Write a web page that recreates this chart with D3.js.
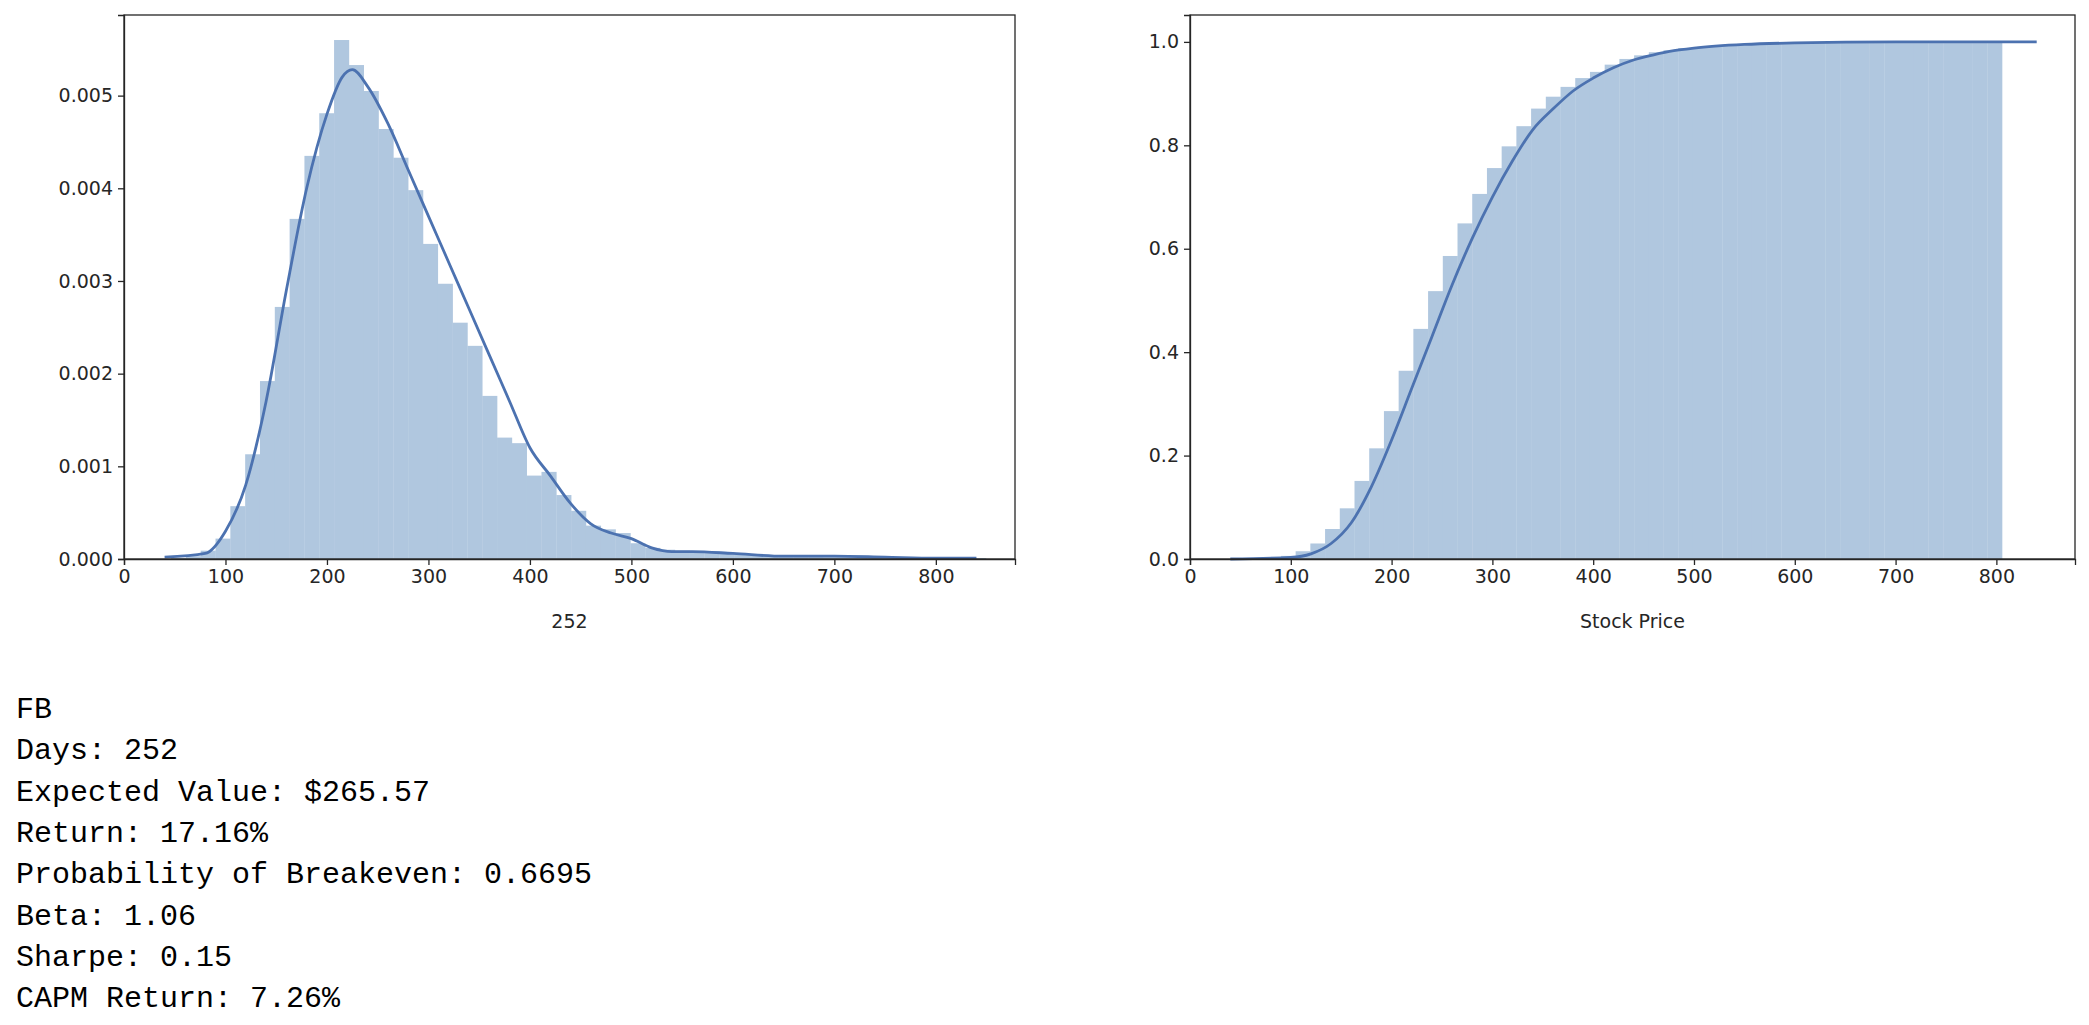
<!DOCTYPE html>
<html lang="en">
<head>
<meta charset="UTF-8">
<title>FB Monte Carlo</title>
<script src="https://d3js.org/d3.v7.min.js"></script>
<style>
  body { margin: 0; background: #fff; }
  .axis text { font-family: "DejaVu Sans", sans-serif; font-size: 19px; fill: #262626; }
  .axis path, .axis line { stroke: #262626; stroke-width: 1.3; }
  .label { font-family: "DejaVu Sans", sans-serif; font-size: 19px; fill: #262626; }
  .stats { font-family: "Liberation Mono", monospace; font-size: 30px; fill: #000; }
</style>
</head>
<body>
<svg id="chart" width="2089" height="1025"></svg>
<script>
// histogram bins (left edge of first bin and width, in price units)
const binStart = 46.4;
const binWidth = 14.6;

// density histogram heights
const densityBins = [0.00001, 0.00003, 0.00009, 0.00022, 0.00057, 0.00113, 0.00192, 0.00272, 0.00367, 0.00435,
  0.00481, 0.0056, 0.00533, 0.00505, 0.00464, 0.00433, 0.00398, 0.0034, 0.00297, 0.00255,
  0.0023, 0.00176, 0.00131, 0.00125, 0.0009, 0.00094, 0.00069, 0.00052, 0.00036, 0.00032,
  0.00028, 0.00017, 0.00012, 0.0001, 0.00009, 0.00008, 0.00008, 0.00006, 0.00005, 0.00004,
  0.00004, 0.00004, 0.00003, 0.00003, 0.00002, 0.00002, 0.00002, 0.00001, 0.00001, 0.00001,
  0.00001, 0.00001, 0.00001, 0.00001, 0.00001];

// kde curve
const kdeX = [40, 80, 100, 120, 140, 160, 180, 200, 215, 225, 240, 260, 280, 300, 320, 340, 360, 380, 400, 420,
  440, 460, 480, 500, 520, 540, 560, 600, 650, 700, 750, 800, 840];
const kdeY = [0.00002, 0.00006, 0.0003, 0.0008, 0.0017, 0.0029, 0.004, 0.0048, 0.0052, 0.00528, 0.0051, 0.0047,
  0.0042, 0.0037, 0.0032, 0.0027, 0.0022, 0.0017, 0.0012, 0.0009, 0.0006, 0.00038, 0.00028, 0.00022, 0.00012,
  0.00008, 0.00008, 0.00006, 0.00003, 0.00003, 0.00002, 0.00001, 0.00001];

// cumulative histogram heights
const cdfBins = [0.0005, 0.001, 0.002, 0.006, 0.015, 0.03, 0.058, 0.098, 0.151, 0.214,
  0.286, 0.364, 0.445, 0.518, 0.586, 0.649, 0.706, 0.756, 0.798, 0.837,
  0.871, 0.894, 0.913, 0.93, 0.942, 0.956, 0.967, 0.974, 0.98, 0.984,
  0.988, 0.99, 0.992, 0.994, 0.995, 0.996, 0.997, 0.997, 0.998, 0.998,
  0.999, 0.999, 0.999, 0.999, 1.0, 1.0, 1.0, 1.0, 1.0, 1.0, 1.0, 1.0];

// cumulative kde curve
const cdfX = [40, 100, 120, 140, 160, 180, 200, 220, 240, 260, 280, 300, 320, 340, 360, 380, 400, 420, 440, 460,
  480, 500, 550, 600, 700, 840];
const cdfY = [0, 0.003, 0.01, 0.03, 0.07, 0.14, 0.23, 0.33, 0.43, 0.53, 0.62, 0.7, 0.77, 0.83, 0.87, 0.905, 0.93,
  0.95, 0.965, 0.975, 0.983, 0.988, 0.995, 0.998, 1.0, 1.0];

const xTicks = [0, 100, 200, 300, 400, 500, 600, 700, 800];
const leftYTicks = [0, 0.001, 0.002, 0.003, 0.004, 0.005];
const rightYTicks = [0, 0.2, 0.4, 0.6, 0.8, 1.0];

const statLines = ["FB", "Days: 252", "Expected Value: $265.57", "Return: 17.16%",
  "Probability of Breakeven: 0.6695", "Beta: 1.06", "Sharpe: 0.15", "CAPM Return: 7.26%"];

const barFill = "#b0c7df";
const lineColor = "#4c72b0";
const svg = d3.select("#chart");

function panel(opts) {
  const x = d3.scaleLinear().domain([0, 878]).range([opts.left, opts.right]);
  const y = d3.scaleLinear().domain(opts.yDomain).range([559, 15]);
  const g = svg.append("g");

  g.selectAll("rect").data(opts.bins).enter().append("rect")
    .attr("x", (d, i) => x(binStart + i * binWidth))
    .attr("width", x(binWidth) - x(0) + 0.3)
    .attr("y", d => y(d))
    .attr("height", d => y(0) - y(d))
    .attr("fill", barFill);

  g.append("path")
    .datum(opts.curveX.map((v, i) => [v, opts.curveY[i]]))
    .attr("fill", "none").attr("stroke", lineColor).attr("stroke-width", 2.8)
    .attr("d", d3.line().x(d => x(d[0])).y(d => y(d[1])).curve(d3.curveMonotoneX));

  g.append("g").attr("class", "axis").attr("transform", "translate(0,559)")
    .call(d3.axisBottom(x).tickValues(xTicks).tickSize(6).tickPadding(5));
  g.append("g").attr("class", "axis").attr("transform", `translate(${opts.left},0)`)
    .call(d3.axisLeft(y).tickValues(opts.yTicks).tickFormat(opts.fmt).tickSize(6).tickPadding(5));

  g.append("rect").attr("x", opts.left).attr("y", 15)
    .attr("width", opts.right - opts.left).attr("height", 544)
    .attr("fill", "none").attr("stroke", "#262626").attr("stroke-width", 1.3);

  g.append("text").attr("class", "label")
    .attr("x", (opts.left + opts.right) / 2).attr("y", 628)
    .attr("text-anchor", "middle").text(opts.xLabel);
}

panel({ left: 124, right: 1015, yDomain: [0, 0.00587], bins: densityBins, curveX: kdeX, curveY: kdeY,
  yTicks: leftYTicks, fmt: d3.format(".3f"), xLabel: "252" });
panel({ left: 1190, right: 2075, yDomain: [0, 1.052], bins: cdfBins, curveX: cdfX, curveY: cdfY,
  yTicks: rightYTicks, fmt: d3.format(".1f"), xLabel: "Stock Price" });

svg.append("g").selectAll("text").data(statLines).enter().append("text")
  .attr("class", "stats")
  .attr("x", 16)
  .attr("y", (d, i) => 718 + i * 41.3)
  .text(d => d);
</script>
</body>
</html>
